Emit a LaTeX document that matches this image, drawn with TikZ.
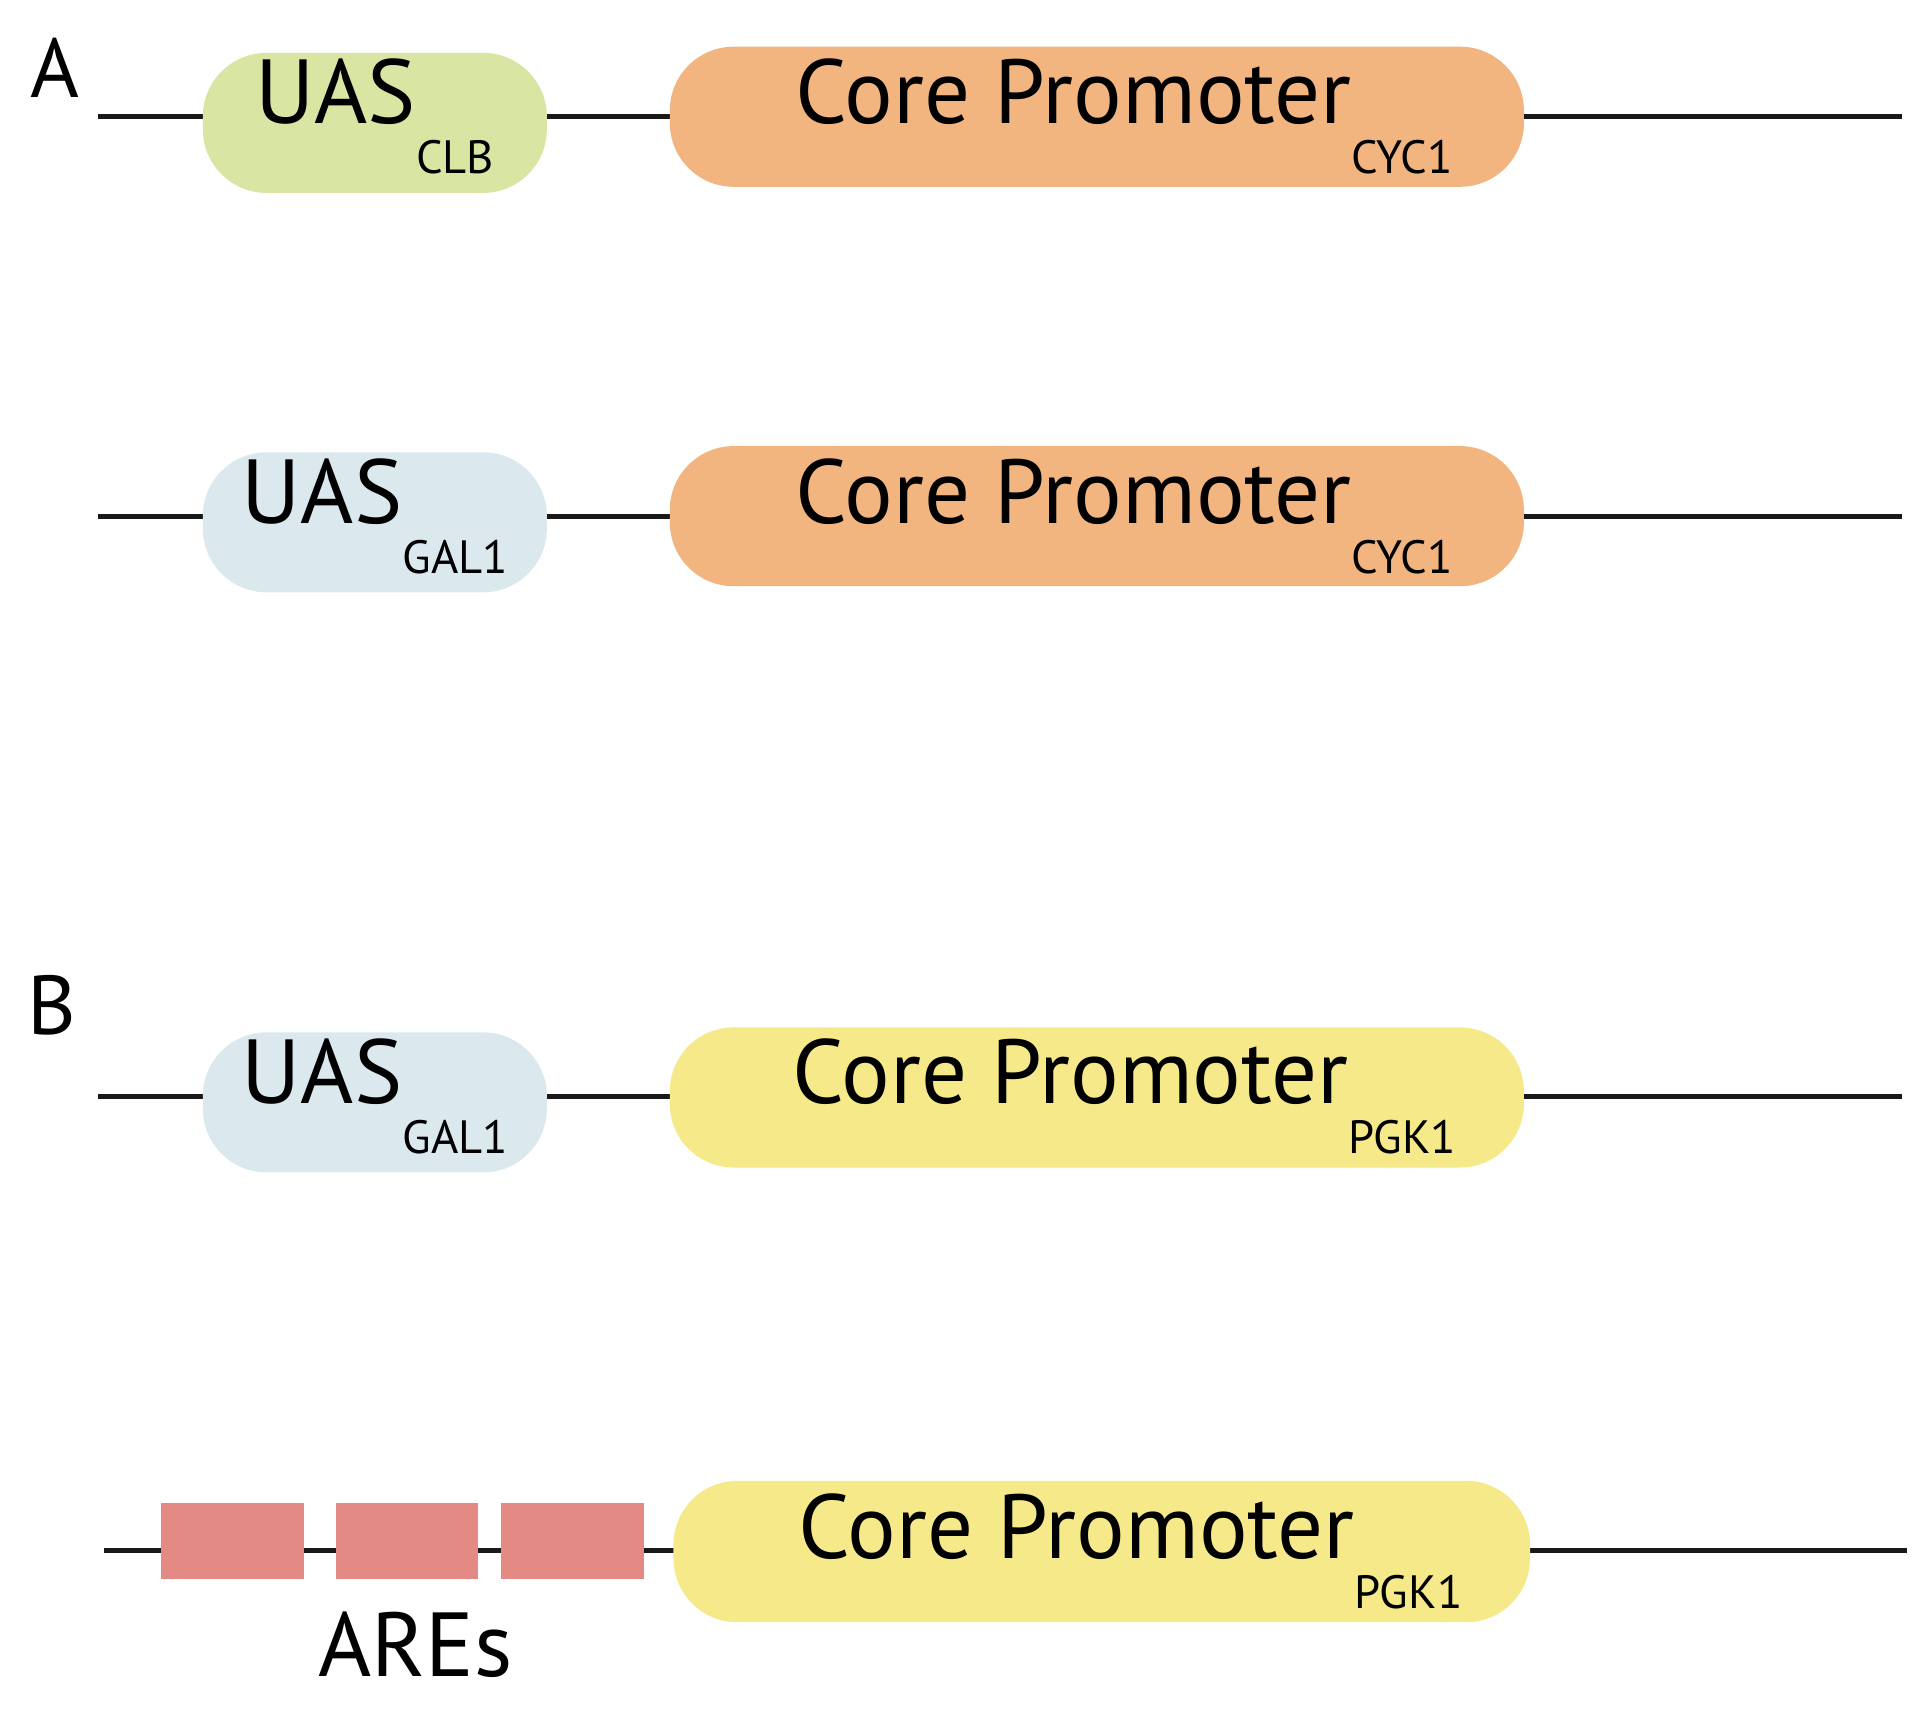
\documentclass[tikz,border=0pt]{standalone}
\usepackage{fontspec}
\setmainfont{PT Sans}
\begin{document}
\begin{tikzpicture}[x=0.5pt,y=-0.5pt,
  dna/.style={line width=2pt,draw=black!90},
  box/.style={rounded corners=26pt,inner sep=0pt,anchor=north west},
  lbl/.style={font=\fontsize{37}{40}\selectfont},
  sub/.style={font=\fontsize{19}{20}\selectfont},
  panel/.style={font=\fontsize{34}{36}\selectfont}]
\definecolor{cgreen}{HTML}{D9E6A3}
\definecolor{corange}{HTML}{F2B57F}
\definecolor{cblue}{HTML}{DBE9EE}
\definecolor{cyellow}{HTML}{F5E98A}
\definecolor{cred}{HTML}{E48A84}
\useasboundingbox[fill=white] (0,0) rectangle (1568,1390);
\node[panel] (A) at (45,55) {A};
\node[panel] (B) at (42,818) {B};
% row 1
\draw[dna] (80,95) -- (1548,95);
\fill[cgreen,rounded corners=26pt] (165,43) rectangle (445,157);
\fill[corange,rounded corners=26pt] (545,38) rectangle (1240,152);
\node[lbl] (u1) at (305,95) {UAS\raisebox{-0.55em}{\fontsize{19}{20}\selectfont CLB}};
\node[lbl] (c1) at (915,95) {Core Promoter\raisebox{-0.55em}{\fontsize{19}{20}\selectfont CYC1}};
% row 2
\draw[dna] (80,420) -- (1548,420);
\fill[cblue,rounded corners=26pt] (165,368) rectangle (445,482);
\fill[corange,rounded corners=26pt] (545,363) rectangle (1240,477);
\node[lbl] (u2) at (305,420) {UAS\raisebox{-0.55em}{\fontsize{19}{20}\selectfont GAL1}};
\node[lbl] (c2) at (915,420) {Core Promoter\raisebox{-0.55em}{\fontsize{19}{20}\selectfont CYC1}};
% row 3
\draw[dna] (80,892) -- (1548,892);
\fill[cblue,rounded corners=26pt] (165,840) rectangle (445,954);
\fill[cyellow,rounded corners=26pt] (545,836) rectangle (1240,950);
\node[lbl] (u3) at (305,892) {UAS\raisebox{-0.55em}{\fontsize{19}{20}\selectfont GAL1}};
\node[lbl] (c3) at (915,892) {Core Promoter\raisebox{-0.55em}{\fontsize{19}{20}\selectfont PGK1}};
% row 4
\draw[dna] (85,1262) -- (1552,1262);
\fill[cred] (131,1223) rectangle (247,1285);
\fill[cred] (273,1223) rectangle (389,1285);
\fill[cred] (408,1223) rectangle (524,1285);
\fill[cyellow,rounded corners=26pt] (548,1205) rectangle (1245,1320);
\node[lbl] (c4) at (920,1262) {Core Promoter\raisebox{-0.55em}{\fontsize{19}{20}\selectfont PGK1}};
\node[lbl] (ares) at (338,1338) {AREs};
\end{tikzpicture}
\end{document}
